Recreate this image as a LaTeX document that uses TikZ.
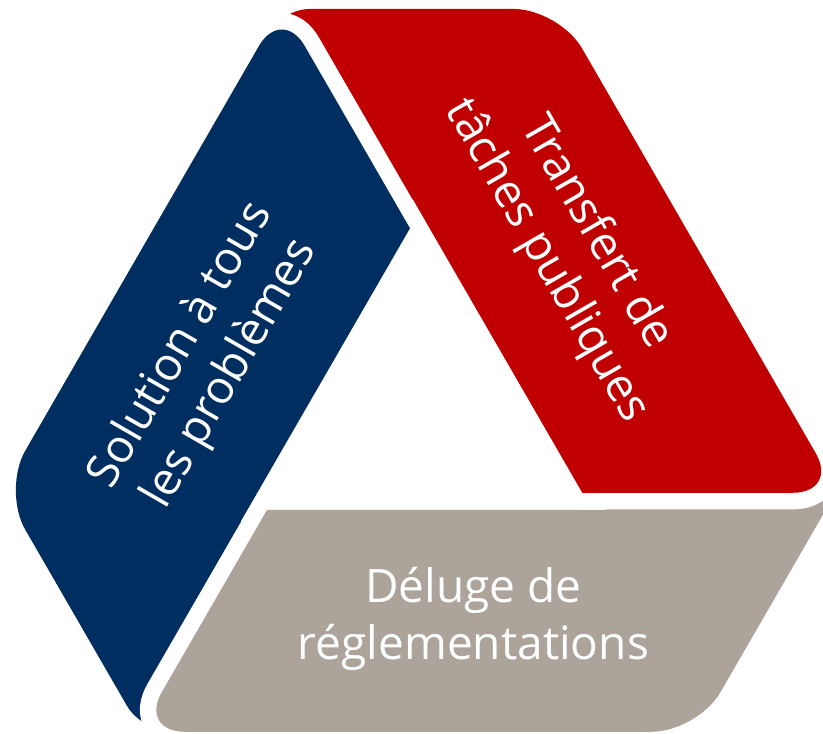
\documentclass[tikz,border=0pt]{standalone}
\usepackage{fontspec}
\setmainfont{Open Sans}
\definecolor{wingblue}{RGB}{0,46,96}
\definecolor{wingred}{RGB}{192,0,0}
\definecolor{winggray}{RGB}{172,164,154}
\tikzset{band/.style = {draw=white, fill=white, line width=18.8pt, line join=round}}
\tikzset{wingtext/.style = {text=white, align=center, font=\fontsize{26.2pt}{32.4pt}\selectfont}}
% one wing, drawn for the gray one; the others are the same turned by 120 and 240
\newcommand{\wingpath}{(-216.78,-210.48) [rounded corners=26pt] -- (-280.85,-321.46) -- (277.85,-321.46)
  -- (425.0,-66.59) -- (338.35,-16.62) [sharp corners] -- (185.6,-99.5) -- (-152.7,-99.5) -- cycle}

\begin{document}
\begin{tikzpicture}[x=0.02cm, y=0.02cm]
                \useasboundingbox (-419.8,-323.7) rectangle (403.2,410.3);
                \path[band] \wingpath;
                \fill[winggray] \wingpath;
                \begin{scope}[rotate=120]
                \path[band] \wingpath;
                \fill[wingred] \wingpath;
                \end{scope}
                \begin{scope}[rotate=240]
                \path[band] \wingpath;
                \fill[wingblue] \wingpath;
                \end{scope}
                % gray once more over the end of the blue
                \begin{scope}
                \clip (-430,-340) rectangle (-90,-30);
                \path[band] \wingpath;
                \fill[winggray] \wingpath;
                \end{scope}
                \node[wingtext, rotate=60] (solution) at (-213.8,50.3) {Solution à tous\\les problèmes};
                \node[wingtext, rotate=-60] (transfert) at (151.2,163.3) {Transfert de\\tâches publiques};
                \node[wingtext] (deluge) at (53.7,-208.7) {Déluge de\\réglementations};
            \end{tikzpicture}
\end{document}
